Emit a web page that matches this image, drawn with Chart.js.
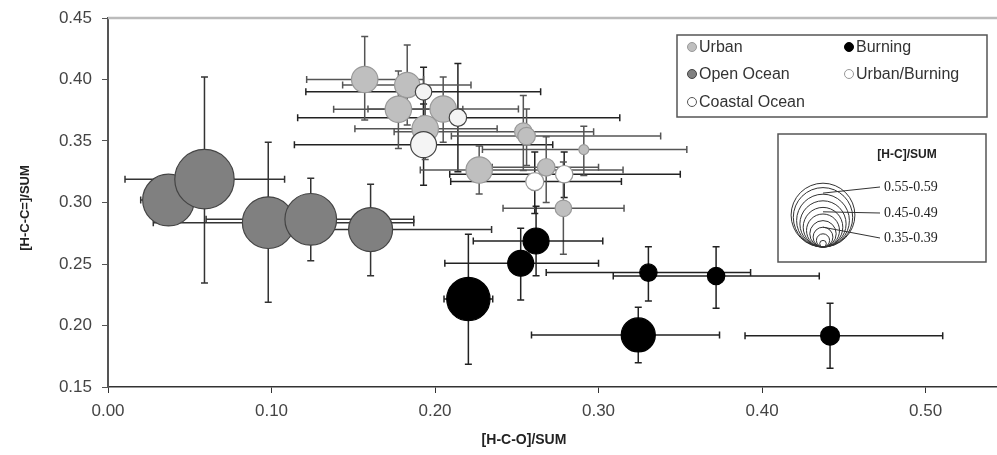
<!DOCTYPE html>
<html>
<head>
<meta charset="utf-8">
<script src="https://cdn.jsdelivr.net/npm/chart.js@4.4.1/dist/chart.umd.min.js"></script>
<style>
    html, body { margin: 0; background: #fff; }
</style>
</head>
<body>
<canvas id="grafico" width="997" height="455"></canvas>
<script>
// Urban
const urbanX   = [0.157, 0.183, 0.1776, 0.205, 0.194, 0.254, 0.256, 0.291, 0.227, 0.268, 0.2785];
const urbanY   = [0.400, 0.3955, 0.3758, 0.376, 0.360, 0.3576, 0.354, 0.343, 0.3264, 0.3286, 0.2953];
const urbanHC  = [0.42, 0.415, 0.42, 0.42, 0.42, 0.38, 0.38, 0.345, 0.42, 0.38, 0.375];
const urbanXLo = [0.1215, 0.1435, 0.138, 0.159, 0.151, 0.175, 0.21, 0.229, 0.191, 0.235, 0.2416];
const urbanXHi = [0.193, 0.222, 0.217, 0.251, 0.238, 0.297, 0.338, 0.354, 0.315, 0.30, 0.3156];
const urbanYLo = [0.367, 0.363, 0.344, 0.349, 0.335, 0.326, 0.330, 0.322, 0.307, 0.300, 0.258];
const urbanYHi = [0.435, 0.428, 0.407, 0.402, 0.385, 0.387, 0.376, 0.362, 0.346, 0.3535, 0.333];

// Open Ocean
const oceanX   = [0.037, 0.059, 0.098, 0.124, 0.1606];
const oceanY   = [0.302, 0.319, 0.2836, 0.2863, 0.278];
const oceanHC  = [0.535, 0.57, 0.535, 0.535, 0.50];
const oceanXLo = [0.02, 0.0104, 0.0277, 0.060, 0.09];
const oceanXHi = [0.055, 0.108, 0.187, 0.187, 0.2346];
const oceanYLo = [0.295, 0.2346, 0.219, 0.2527, 0.2405];
const oceanYHi = [0.31, 0.402, 0.349, 0.3197, 0.3148];

// Burning
const burnX   = [0.2204, 0.2524, 0.2618, 0.3305, 0.3719, 0.3243, 0.4416];
const burnY   = [0.2215, 0.2506, 0.2687, 0.243, 0.2402, 0.1923, 0.1917];
const burnHC  = [0.497, 0.418, 0.418, 0.379, 0.379, 0.455, 0.386];
const burnXLo = [0.2055, 0.206, 0.2234, 0.268, 0.309, 0.259, 0.3896];
const burnXHi = [0.2353, 0.300, 0.3026, 0.393, 0.435, 0.374, 0.5105];
const burnYLo = [0.1685, 0.2207, 0.2405, 0.2199, 0.214, 0.1698, 0.1652];
const burnYHi = [0.2741, 0.279, 0.297, 0.264, 0.264, 0.2148, 0.218];

// Urban/Burning
const ubX   = [0.279, 0.261];
const ubY   = [0.323, 0.317];
const ubHC  = [0.379, 0.382];
const ubXLo = [0.209, 0.2096];
const ubXHi = [0.35, 0.314];
const ubYLo = [0.304, 0.291];
const ubYHi = [0.341, 0.341];

// Coastal Ocean
const costaX   = [0.193, 0.214, 0.193];
const costaY   = [0.390, 0.369, 0.347];
const costaHC  = [0.375, 0.379, 0.418];
const costaXLo = [0.121, 0.116, 0.114];
const costaXHi = [0.2646, 0.313, 0.272];
const costaYLo = [0.370, 0.325, 0.314];
const costaYHi = [0.410, 0.413, 0.38];

const xTicks = [0.0, 0.1, 0.2, 0.3, 0.4, 0.5];
const rangosHC = ['0.55-0.59', '0.45-0.49', '0.35-0.39'];

// [H-C]/SUM -> radio en px
const radio = hc => (hc - 0.3) * 110;

function serie(label, xs, ys, hc, err, fill, border, barColor) {
    return {
        label: label,
        data: xs.map((x, i) => ({ x: x, y: ys[i], r: radio(hc[i]) })),
        err: err,
        backgroundColor: fill,
        borderColor: border,
        borderWidth: 1.2,
        barColor: barColor
    };
}

// Barras de error, dibujadas con las escalas
const barrasError = {
    id: 'barrasError',
    beforeDatasetsDraw(chart) {
        const { ctx, scales: { x, y } } = chart;
        ctx.save();
        chart.data.datasets.forEach(ds => {
            const e = ds.err;
            ctx.strokeStyle = ds.barColor;
            ctx.lineWidth = 1.5;
            ds.data.forEach((p, i) => {
                const px = x.getPixelForValue(p.x), py = y.getPixelForValue(p.y);
                const x0 = x.getPixelForValue(e[0][i]), x1 = x.getPixelForValue(e[1][i]);
                const y0 = y.getPixelForValue(e[2][i]), y1 = y.getPixelForValue(e[3][i]);
                ctx.beginPath();
                ctx.moveTo(x0, py); ctx.lineTo(x1, py);
                ctx.moveTo(x0, py - 3.5); ctx.lineTo(x0, py + 3.5);
                ctx.moveTo(x1, py - 3.5); ctx.lineTo(x1, py + 3.5);
                ctx.moveTo(px, y0); ctx.lineTo(px, y1);
                ctx.moveTo(px - 3.5, y0); ctx.lineTo(px + 3.5, y0);
                ctx.moveTo(px - 3.5, y1); ctx.lineTo(px + 3.5, y1);
                ctx.stroke();
            });
        });
        ctx.restore();
    }
};

// Leyendas, borde superior y titulos de ejes
const extras = {
    id: 'extras',
    afterDraw(chart) {
        const { ctx, chartArea: a } = chart;
        ctx.save();
        // borde superior
        ctx.strokeStyle = '#bbb';
        ctx.lineWidth = 2.5;
        ctx.beginPath();
        ctx.moveTo(a.left, a.top); ctx.lineTo(a.right, a.top);
        ctx.stroke();

        // titulos
        ctx.fillStyle = '#222';
        ctx.font = 'bold 14px "Liberation Sans", Arial';
        ctx.textAlign = 'center';
        ctx.textBaseline = 'middle';
        ctx.fillText('[H-C-O]/SUM', 524, 440);
        ctx.font = 'bold 13px "Liberation Sans", Arial';
        ctx.translate(25, 208);
        ctx.rotate(-Math.PI / 2);
        ctx.fillText('[H-C-C=]/SUM', 0, 0);
        ctx.setTransform(1, 0, 0, 1, 0, 0);

        // leyenda de tipos
        ctx.fillStyle = '#fff';
        ctx.fillRect(677, 35, 310, 82);
        ctx.strokeStyle = '#555';
        ctx.lineWidth = 1.5;
        ctx.strokeRect(677, 35, 310, 82);
        const items = [
            ['Urban', 692, 47, '#bfbfbf', '#999'],
            ['Burning', 849, 47, '#000', '#000'],
            ['Open Ocean', 692, 74, '#808080', '#444'],
            ['Urban/Burning', 849, 74, '#fff', '#999'],
            ['Coastal Ocean', 692, 102, '#fff', '#555']
        ];
        ctx.font = '16px "Liberation Sans", Arial';
        ctx.textAlign = 'left';
        items.forEach(([t, mx, my, f, b]) => {
            ctx.beginPath();
            ctx.arc(mx, my, 4.5, 0, Math.PI * 2);
            ctx.fillStyle = f; ctx.fill();
            ctx.strokeStyle = b; ctx.lineWidth = 1; ctx.stroke();
            ctx.fillStyle = '#333';
            ctx.fillText(t, mx + 7, my + 1);
        });

        // leyenda de tamanos
        ctx.fillStyle = '#fff';
        ctx.fillRect(778, 134, 208, 128);
        ctx.strokeStyle = '#555';
        ctx.lineWidth = 1.5;
        ctx.strokeRect(778, 134, 208, 128);
        ctx.fillStyle = '#222';
        ctx.font = 'bold 12px "Liberation Sans", Arial';
        ctx.textAlign = 'center';
        ctx.fillText('[H-C]/SUM', 907, 155);
        const cx = 823, base = 247;
        ctx.strokeStyle = '#333';
        ctx.lineWidth = 1;
        [0.33, 0.36, 0.39, 0.42, 0.45, 0.48, 0.51, 0.54, 0.57, 0.59].forEach(h => {
            const r = radio(h);
            ctx.beginPath();
            ctx.arc(cx, base - r, r, 0, Math.PI * 2);
            ctx.stroke();
        });
        ctx.font = '14px "Liberation Serif", serif';
        ctx.textAlign = 'left';
        ctx.fillStyle = '#222';
        [[0.545, 187], [0.46, 213], [0.39, 238]].forEach(([h, ly], i) => {
            const top = base - 2 * radio(h);
            ctx.beginPath();
            ctx.moveTo(cx, top); ctx.lineTo(880, ly);
            ctx.stroke();
            ctx.fillText(rangosHC[i], 884, ly);
        });
        ctx.restore();
    }
};

document.addEventListener('DOMContentLoaded', () => {
    const ctx = document.getElementById('grafico').getContext('2d');
    new Chart(ctx, {
        type: 'bubble',
        data: {
            datasets: [
                serie('Coastal Ocean', costaX, costaY, costaHC, [costaXLo, costaXHi, costaYLo, costaYHi], '#f4f4f4', '#444', '#222'),
                serie('Urban/Burning', ubX, ubY, ubHC, [ubXLo, ubXHi, ubYLo, ubYHi], '#fff', '#999', '#222'),
                serie('Urban', urbanX, urbanY, urbanHC, [urbanXLo, urbanXHi, urbanYLo, urbanYHi], '#bfbfbf', '#999', '#555'),
                serie('Burning', burnX, burnY, burnHC, [burnXLo, burnXHi, burnYLo, burnYHi], '#000', '#000', '#222'),
                serie('Open Ocean', oceanX, oceanY, oceanHC, [oceanXLo, oceanXHi, oceanYLo, oceanYHi], '#808080', '#444', '#333')
            ]
        },
        options: {
            responsive: false,
            animation: false,
            events: [],
            layout: { autoPadding: false, padding: { top: 18, right: 0, left: 0, bottom: 0 } },
            plugins: { legend: { display: false }, tooltip: { enabled: false } },
            scales: {
                x: {
                    type: 'linear',
                    min: 0,
                    max: 0.5437,
                    afterBuildTicks: s => { s.ticks = xTicks.map(v => ({ value: v })); },
                    afterFit: s => { s.height = 68; s.paddingLeft = 0; s.paddingRight = 0; },
                    grid: { drawOnChartArea: false, drawTicks: true, tickLength: 6, color: '#333' },
                    border: { color: '#333', width: 1.5 },
                    ticks: {
                        padding: 8,
                        color: '#444',
                        font: { family: '"Liberation Sans", Arial', size: 17 },
                        callback: v => v.toFixed(2)
                    }
                },
                y: {
                    min: 0.15,
                    max: 0.45,
                    afterFit: s => { s.width = 108; s.paddingTop = 0; s.paddingBottom = 0; },
                    grid: { drawOnChartArea: false, drawTicks: true, tickLength: 6, color: '#555' },
                    border: { color: '#555', width: 2 },
                    ticks: {
                        stepSize: 0.05,
                        padding: 10,
                        color: '#444',
                        font: { family: '"Liberation Sans", Arial', size: 17 },
                        callback: v => v.toFixed(2)
                    }
                }
            }
        },
        plugins: [barrasError, extras]
    });
});
</script>
</body>
</html>
